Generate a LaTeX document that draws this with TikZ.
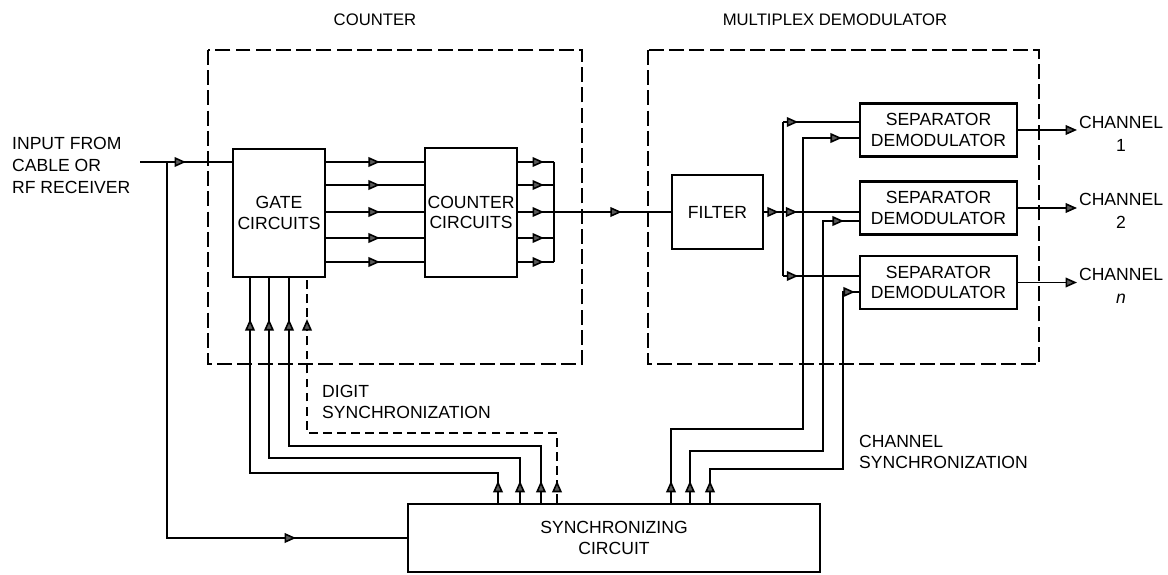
\documentclass[tikz,border=0pt]{standalone}
\usepackage{fontspec}
\setmainfont{Liberation Sans}
\usetikzlibrary{arrows.meta,decorations.markings}
\tikzset{Tri/.tip={Triangle[length=6.5pt,width=5.5pt,fill=black!65]}}

\begin{document}
\begin{tikzpicture}[x=0.02cm,y=-0.02cm,
  every node/.style={font=\fontsize{10}{11.5}\selectfont, align=center},
  blk/.style={draw, line width=1.3pt, inner sep=0pt},
  grp/.style={draw, line width=1.2pt, dash pattern=on 8.5pt off 3pt},
  wire/.style={line width=0.9pt},
  tipat/.style={postaction={decorate}, decoration={markings, mark=at position #1 with {\arrow{Tri}}}},
  tiptwo/.style 2 args={postaction={decorate}, decoration={markings,
    mark=at position #1 with {\arrow{Tri}}, mark=at position #2 with {\arrow{Tri}}}}]
\useasboundingbox (0,0) rectangle (1168,574);
% Dashed groups and their titles
\draw[grp] (208,50) rectangle (582,364);
\draw[grp] (648,50) rectangle (1039,364);
\node[font=\fontsize{9.5}{11}\selectfont] (tcount) at (375,20) {COUNTER};
\node[font=\fontsize{9.5}{11}\selectfont] (tmux) at (835,20) {MULTIPLEX DEMODULATOR};
% Blocks
\node[blk, minimum width=1.84cm, minimum height=2.56cm] (gate) at (279,213) {GATE\\CIRCUITS};
\node[blk, minimum width=1.84cm, minimum height=2.58cm] (ctr) at (471,212.5) {COUNTER\\CIRCUITS};
\node[blk, minimum width=1.82cm, minimum height=1.48cm] (filt) at (717.5,212) {FILTER};
\foreach \n/\y in {1/130,2/208,3/282.5}
  \node[blk, minimum width=3.14cm, minimum height=1.06cm] (sep\n) at (938.5,\y) {SEPARATOR\\DEMODULATOR};
\node[blk, minimum width=8.24cm, minimum height=1.36cm] (sync) at (614,538) {SYNCHRONIZING\\CIRCUIT};
% Labels
\node[anchor=west, align=left, font=\fontsize{10}{12.5}\selectfont] (inp) at (6,165) {INPUT FROM\\CABLE OR\\RF RECEIVER};
\foreach \n/\y/\t in {1/134/1,2/211/2,3/286/\textit{n}}
  \node[anchor=west, inner sep=1pt, font=\fontsize{10}{13}\selectfont] (ch\n) at (1077,\y) {CHANNEL\\\t};
\node[anchor=west, align=left] (dsync) at (316,402) {DIGIT\\SYNCHRONIZATION};
\node[anchor=west, align=left] (csync) at (853,452) {CHANNEL\\SYNCHRONIZATION};
% Input and branch to the synchronizing circuit
\coordinate (in) at (140,162);
\coordinate (br) at (167,162);
\draw[wire, tipat=0.5] (in) -- (gate.west |- in);
\draw[wire, tipat=0.82] (br) |- (sync.west);
% Gate -> counter -> bus -> filter
\foreach \y in {162,185,212,238,262} {
  \draw[wire, tipat=0.55] (gate.east |- 0,\y) -- (ctr.west |- 0,\y);
  \draw[wire, tipat=0.72] (ctr.east |- 0,\y) -- (554,\y);
}
\coordinate (bt) at (554,162);
\coordinate (bb) at (554,262);
\coordinate (bm) at (554,212);
\draw[wire] (bt) -- (bb);
\draw[wire, tipat=0.58] (bm) -- (filt.west |- bm);
% Filter -> separators
\coordinate (f1) at (783,122);
\coordinate (f3) at (783,276);
\draw[wire, tiptwo={0.155}{0.35}] (filt.east) -- (sep2.west |- filt.east);
\draw[wire] (f1) -- (f3);
\draw[wire, tipat=0.2] (f1) -- (sep1.west |- f1);
\draw[wire, tipat=0.2] (f3) -- (sep3.west |- f3);
% Channel outputs
\foreach \n in {1,2,3}
  \draw[wire, -Tri] (sep\n.east) -- (ch\n.west |- sep\n.east);
% Channel synchronization
\foreach \n/\xa/\xb/\yb/\yc/\e in {1/671/803/429/138/-0.34cm,2/690/823/451/221/-0.3cm,3/710/843/469/292/-0.08cm}
  \draw[wire, tiptwo={0.44cm}{\e}] (sync.north -| \xa,0) |- (\xb,\yb) |- (sep\n.west |- 0,\yc);
% Digit synchronization
\foreach \xa/\yb/\xb in {498/473/250,520/458/269,541/446/289}
  \draw[wire, tiptwo={0.44cm}{-0.82cm}] (sync.north -| \xa,0) |- (\xb,\yb) -- (gate.south -| \xb,0);
\draw[wire, dash pattern=on 5pt off 3pt, tiptwo={0.44cm}{-0.82cm}] (sync.north -| 557,0) |- (307,433) -- (gate.south -| 307,0);
\end{tikzpicture}
\end{document}
